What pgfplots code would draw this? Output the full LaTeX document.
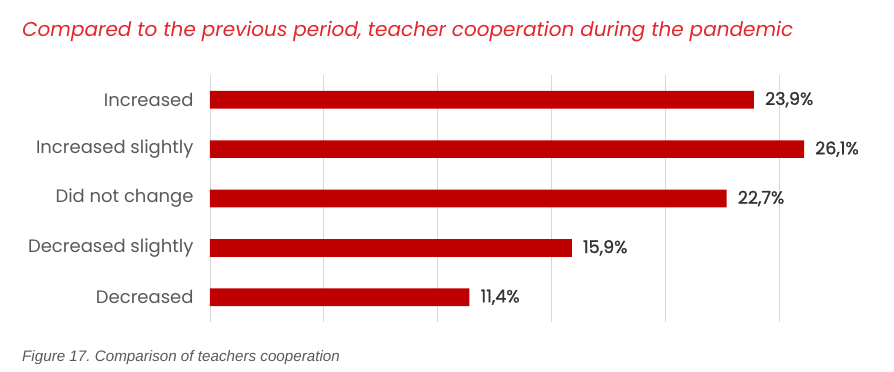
\documentclass[border=0pt]{standalone}
\usepackage{pgfplots}
\pgfplotsset{compat=1.18}
\usepackage{fontspec}
\setmainfont{Poppins}
\newfontfamily\numfont[FakeBold=1.2]{Poppins}
\newfontfamily\capfont{Liberation Sans}
\definecolor{barred}{RGB}{192,0,0}
\definecolor{titlered}{RGB}{227,38,45}
\definecolor{labgray}{RGB}{89,89,89}
\definecolor{numgray}{RGB}{51,51,51}
\definecolor{gridgray}{RGB}{217,217,217}
\begin{document}
\frenchspacing
\begin{tikzpicture}[x=1pt,y=1pt]
\path[use as bounding box] (0,0) rectangle (894,372);
\node[anchor=base west,inner sep=0pt,text=titlered,font=\fontsize{20}{24}\selectfont\itshape] at (22,335) {Compared to the previous period, teacher cooperation during the pandemic};
\node[anchor=base west,inner sep=0pt,text=labgray,font=\capfont\fontsize{15.2}{18}\selectfont\itshape] at (22,10) {Figure 17. Comparison of teachers cooperation};
\begin{axis}[
  at={(210pt,50pt)}, anchor=south west,
  scale only axis, width=569pt, height=247pt,
  xbar, bar width=17.7pt,
  xmin=0, xmax=25, ymin=-0.5, ymax=4.5,
  clip=false,
  axis line style={draw=none},
  tick style={draw=none},
  xtick={0,5,...,25}, xticklabels={},
  xmajorgrids, major grid style={gridgray, line width=0.8pt},
  ytick={0,1,2,3,4},
  yticklabels={Decreased,Decreased slightly,Did not change,Increased slightly,Increased},
  yticklabel style={font=\fontsize{18}{21}\selectfont, text=labgray, inner sep=0pt, xshift=-12pt},
  /pgf/number format/assume math mode=true,
  nodes near coords={\pgfmathprintnumber[fixed,fixed zerofill,precision=1,use comma,assume math mode=true]{\pgfplotspointmeta}\%},
  every node near coord/.append style={font=\numfont\fontsize{17.5}{20}\selectfont, text=numgray, anchor=west, inner sep=0pt, xshift=11pt},
]
\addplot[fill=barred, draw=none] coordinates {(11.4,0) (15.9,1) (22.7,2) (26.1,3) (23.9,4)};
\end{axis}
\end{tikzpicture}
\end{document}
